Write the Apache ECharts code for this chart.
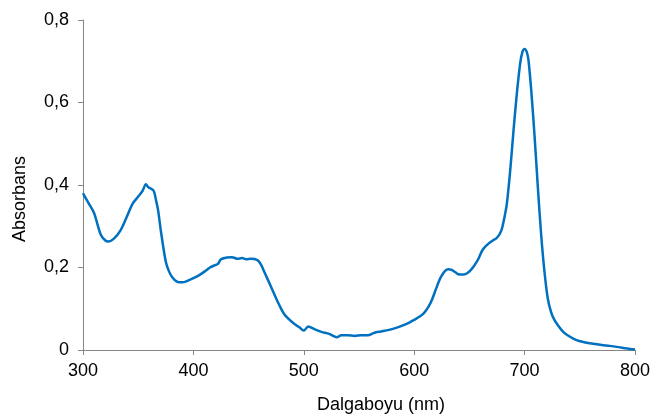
<!DOCTYPE html>
<html>
<head>
<meta charset="utf-8">
<script src="https://cdn.jsdelivr.net/npm/echarts@6/dist/echarts.min.js"></script>
<style>
html,body{margin:0;padding:0;background:#fff;}
#chart{width:653px;height:414px;}
</style>
</head>
<body>
<div id="chart"></div>
<script>
const wavelengths = [300,305,310,316,320,323,328,334,340,345,350,354,357,359,361,364,366,368,371,375,378,381,385,390,395,400,405,410,415,419,422,425,430,435,440,444,448,452,458,461,465,470,475,478,482,486,491,496,500,504,510,516,523,530,534,540,546,552,558,564,570,579,585,591,596,600,605,609,613,616,620,624,628,631,634,637,641,645,648,651,654,658,662,666,671,675,679,682,684,687,690,693,696,698,700,702,703.5,706,709,712,715,718,721,724,727,731,735,740,747,754,762,770,777,785,792,800];
const absorbance = [0.380,0.356,0.332,0.280,0.266,0.263,0.270,0.290,0.325,0.355,0.372,0.386,0.402,0.395,0.392,0.386,0.365,0.339,0.280,0.214,0.190,0.176,0.166,0.164,0.168,0.174,0.181,0.190,0.200,0.205,0.208,0.220,0.224,0.225,0.221,0.223,0.220,0.221,0.218,0.208,0.185,0.155,0.125,0.108,0.088,0.076,0.064,0.055,0.047,0.057,0.050,0.044,0.039,0.031,0.036,0.036,0.034,0.036,0.036,0.042,0.045,0.050,0.055,0.061,0.067,0.073,0.081,0.090,0.105,0.121,0.150,0.176,0.192,0.196,0.194,0.189,0.183,0.183,0.186,0.193,0.203,0.220,0.243,0.255,0.265,0.272,0.290,0.325,0.356,0.436,0.533,0.622,0.695,0.722,0.730,0.722,0.703,0.630,0.520,0.395,0.280,0.190,0.125,0.092,0.073,0.057,0.044,0.034,0.024,0.019,0.015,0.012,0.010,0.007,0.004,0.001];
const xTicks = [300,400,500,600,700,800];
const yTicks = [0,0.2,0.4,0.6,0.8];
const xTitle = 'Dalgaboyu (nm)';
const yTitle = 'Absorbans';

const chart = echarts.init(document.getElementById('chart'), null, {renderer:'canvas'});
const font = 'Liberation Sans, Arial, sans-serif';
const axisColor = '#868686';
chart.setOption({
  animation:false,
  backgroundColor:'#fff',
  grid:{left:83,right:14,top:20,bottom:64,containLabel:false},
  xAxis:{
    type:'value',min:xTicks[0],max:xTicks[xTicks.length-1],interval:100,
    axisLine:{show:true,lineStyle:{color:axisColor,width:1}},
    axisTick:{show:true,inside:false,length:5,lineStyle:{color:axisColor}},
    splitLine:{show:false},
    axisLabel:{color:'#000',fontSize:18,fontFamily:font,margin:12,showMaxLabel:true,showMinLabel:true}
  },
  yAxis:{
    type:'value',min:yTicks[0],max:yTicks[yTicks.length-1],interval:0.2,
    axisLine:{show:true,lineStyle:{color:axisColor,width:1}},
    axisTick:{show:true,inside:false,length:5,lineStyle:{color:axisColor}},
    splitLine:{show:false},
    axisLabel:{color:'#000',fontSize:18,fontFamily:font,margin:14,
      formatter:function(v){return v===0?'0':v.toFixed(1).replace('.',',');}}
  },
  graphic:[
    {type:'text',left:317,top:396,style:{text:xTitle,fontSize:18,fontFamily:font,fill:'#000'}},
    {type:'text',x:11,y:242,rotation:Math.PI/2,style:{text:yTitle,fontSize:18,fontFamily:font,fill:'#000',align:'left',verticalAlign:'top'}}
  ],
  series:[{
    type:'line',
    data:wavelengths.map((w,i)=>[w,absorbance[i]]),
    showSymbol:false,
    smooth:0.3,
    lineStyle:{color:'#0070C0',width:2.5},
    clip:false
  }]
});
</script>
</body>
</html>
